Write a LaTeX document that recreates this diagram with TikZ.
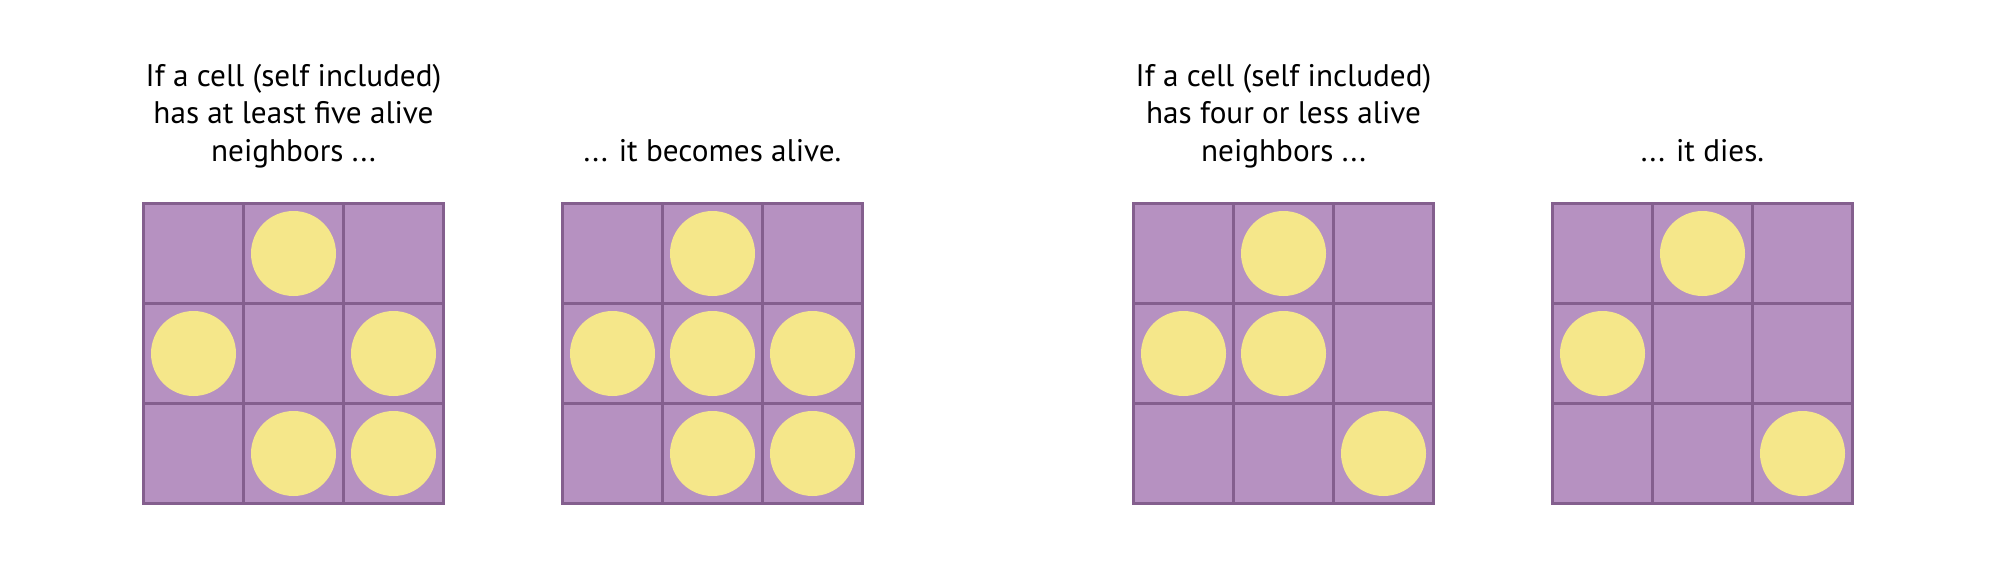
\documentclass[tikz,border=0pt]{standalone}
\usepackage{fontspec}
\setmainfont{PT Sans}
\usepackage{tikz}
\usetikzlibrary{positioning}
\definecolor{cellFill}{HTML}{B691C1}
\definecolor{gridLine}{HTML}{845F8E}
\definecolor{aliveYellow}{HTML}{F5E78A}

\begin{document}
\begin{tikzpicture}[
    x=0.5pt, y=-0.5pt,
    cell/.style={draw=gridLine, fill=cellFill, line width=1.6pt, minimum size=50pt, inner sep=0pt},
    alive/.style={circle, fill=aliveYellow, minimum size=42.5pt, inner sep=0pt},
    caption/.style={font=\fontsize{15.6}{18.75}\selectfont, align=center, inner sep=0pt, text depth=0pt}
  ]
    \useasboundingbox (0,0) rectangle (2001,583);
    % the four 3x3 boards
    \foreach \g/\gx in {a/142, b/561, c/1132, d/1551}
      \foreach \r in {0,1,2}
        \foreach \c in {0,1,2}
          \node[cell] (\g-\r\c) at (\gx+51.5+100*\c, 253.5+100*\r) {};
    % living cells
    \foreach \g/\cells in {a/{01,10,12,21,22}, b/{01,10,11,12,21,22}, c/{01,10,11,22}, d/{01,10,22}}
      \foreach \k in \cells
        \node[alive] (\g-\k-dot) at (\g-\k) {};
    \node[caption, above=20pt of a-01] (a-title) {If a cell (self included)\\has at least five alive\\neighbors ...};
    \node[caption, above=20pt of b-01] (b-title) {... it becomes alive.};
    \node[caption, above=20pt of c-01] (c-title) {If a cell (self included)\\has four or less alive\\neighbors ...};
    \node[caption, above=20pt of d-01] (d-title) {... it dies.};
  \end{tikzpicture}
\end{document}
